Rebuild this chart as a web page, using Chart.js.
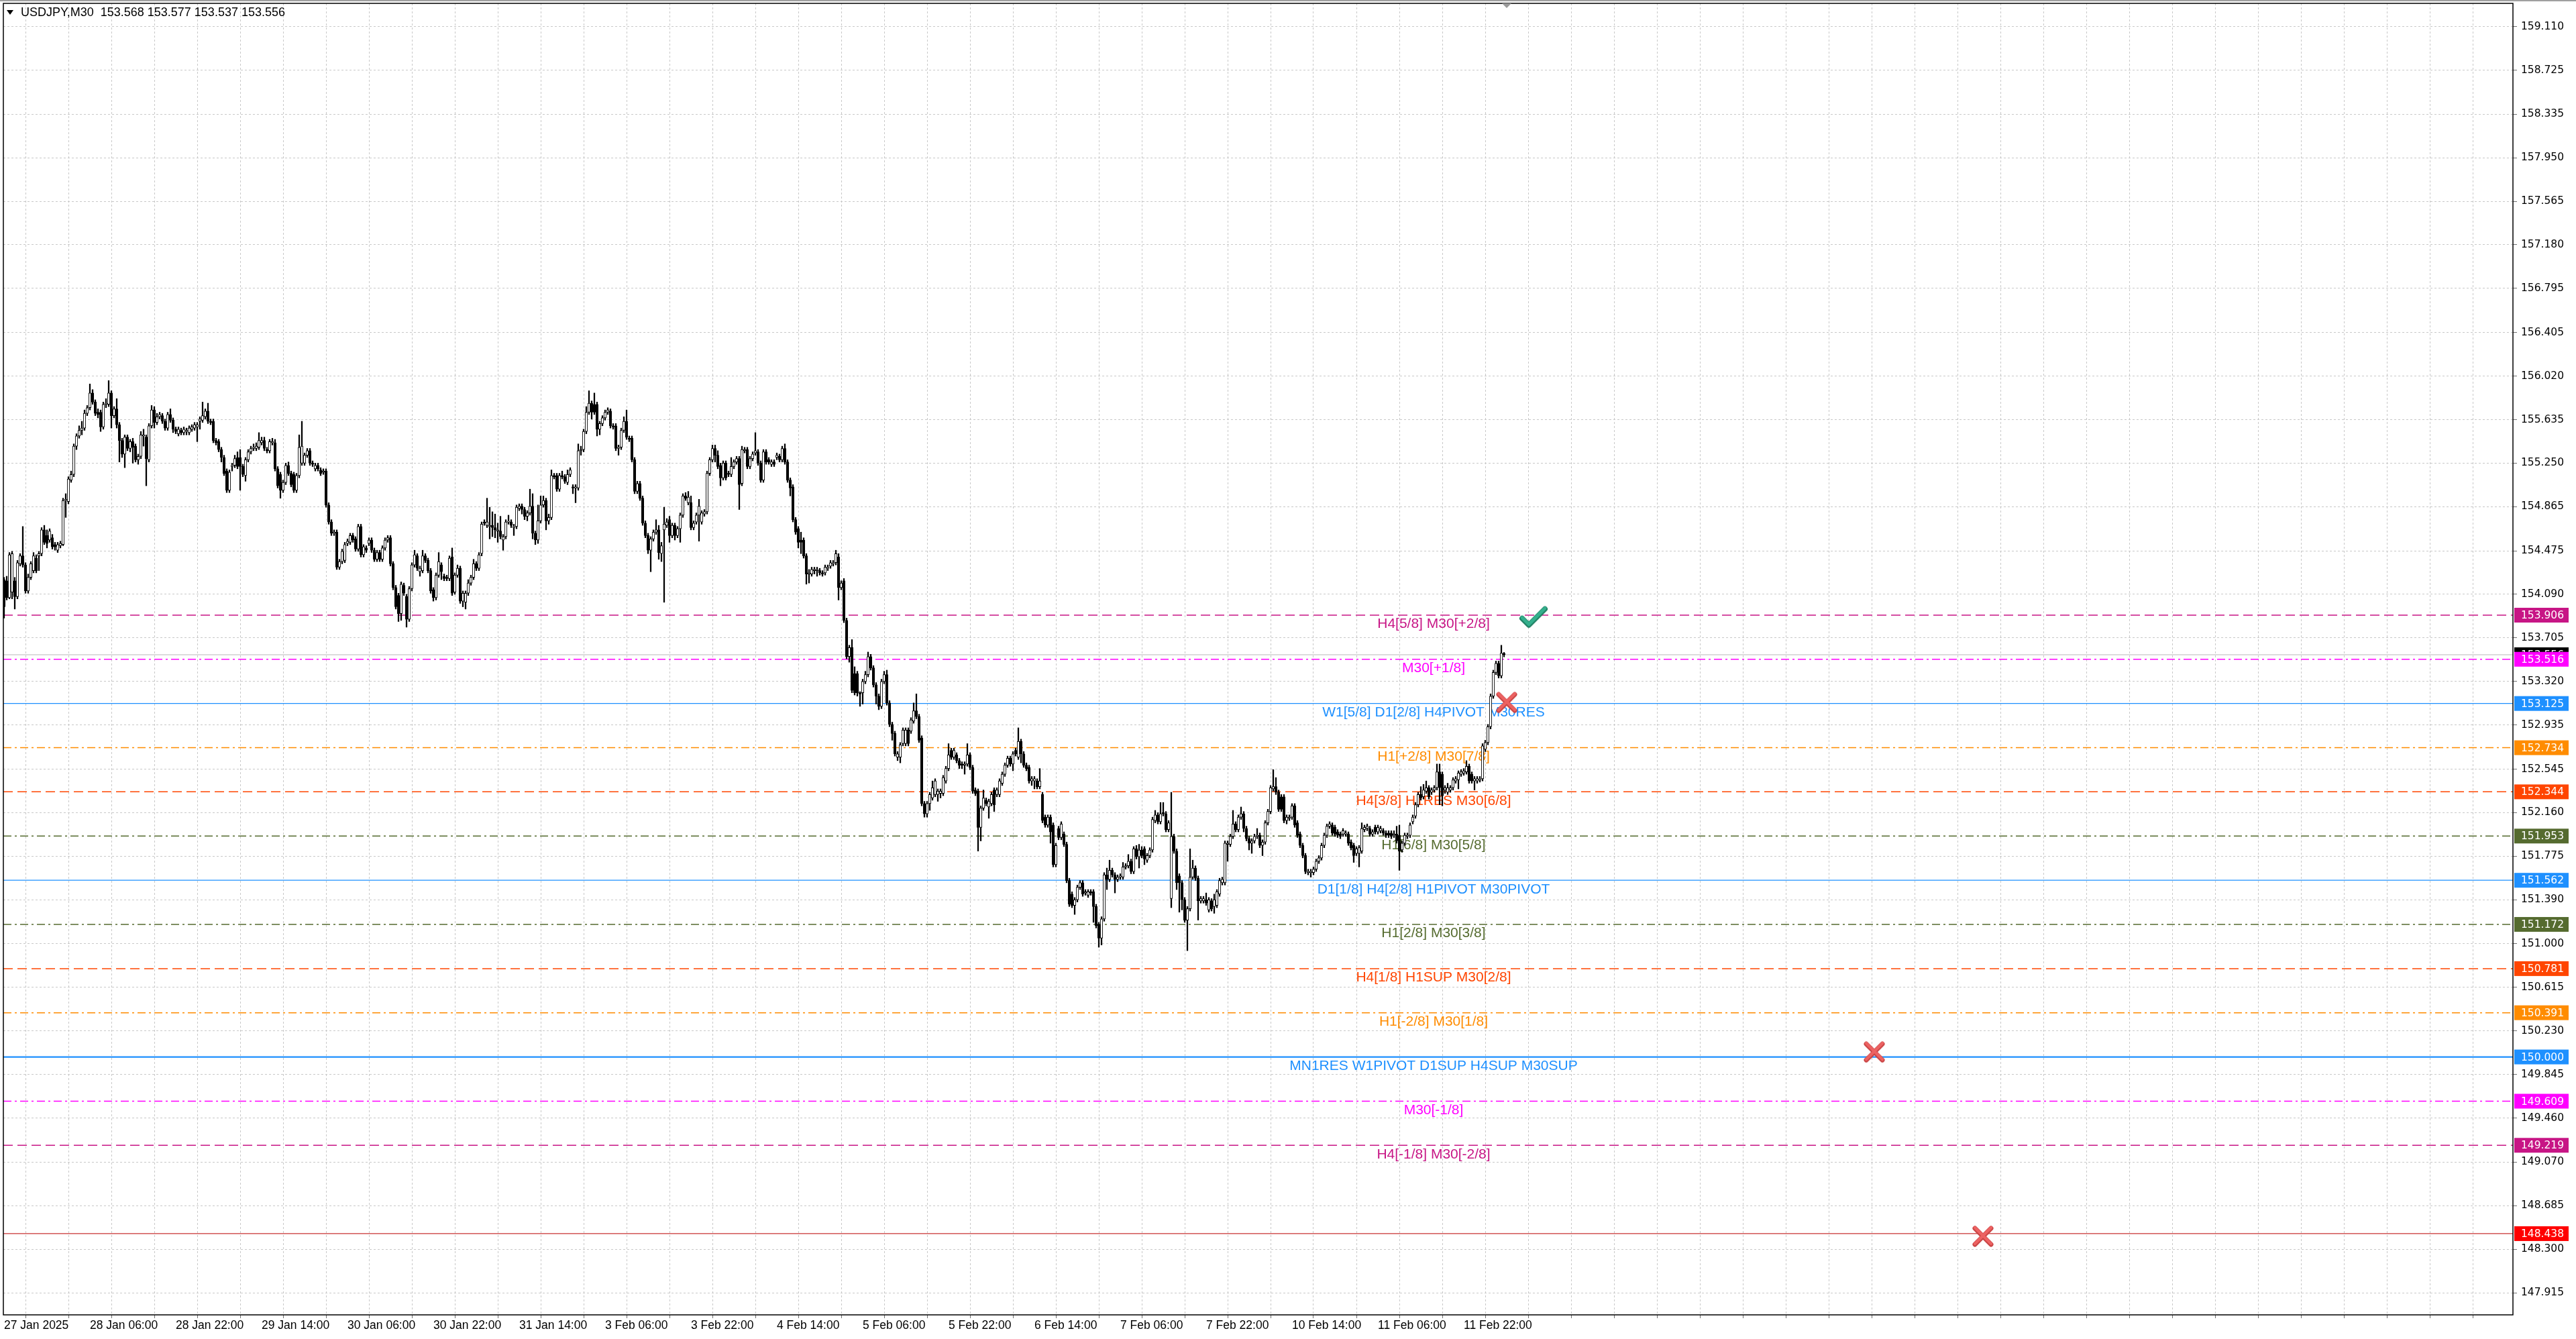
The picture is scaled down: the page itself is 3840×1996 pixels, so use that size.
<!DOCTYPE html>
<html><head><meta charset="utf-8">
<script src="https://cdn.jsdelivr.net/npm/chart.js@4.4.1/dist/chart.umd.min.js"></script>
<style>html,body{margin:0;padding:0;background:#fff;overflow:hidden}#wrap{position:relative;width:3840px;height:1996px}</style>
</head><body><div id="wrap"><canvas id="c"></canvas></div>
<script>
const chartTitle = 'USDJPY,M30  153.568 153.577 153.537 153.556';
const xTickLabels = ['27 Jan 2025','28 Jan 06:00','28 Jan 22:00','29 Jan 14:00','30 Jan 06:00','30 Jan 22:00','31 Jan 14:00','3 Feb 06:00','3 Feb 22:00','4 Feb 14:00','5 Feb 06:00','5 Feb 22:00','6 Feb 14:00','7 Feb 06:00','7 Feb 22:00','10 Feb 14:00','11 Feb 06:00','11 Feb 22:00'];
const yTickValues = [159.110,158.725,158.335,157.950,157.565,157.180,156.795,156.405,156.020,155.635,155.250,154.865,154.475,154.090,153.705,153.320,152.935,152.545,152.160,151.775,151.390,151.000,150.615,150.230,149.845,149.460,149.070,148.685,148.300,147.915];

const opens = [
154.22,154.21,154.06,154.11,154.21,154.07,154.36,154.43,154.35,154.12,
154.24,154.30,154.41,154.43,154.45,154.66,154.61,154.57,154.59,154.53,
154.48,154.52,154.53,154.92,154.91,155.10,155.15,155.40,155.49,155.54,
155.56,155.69,155.74,155.87,155.79,155.70,155.70,155.57,155.77,155.77,
155.87,155.67,155.73,155.59,155.45,155.33,155.48,155.38,155.44,155.40,
155.28,155.31,155.49,155.48,155.28,155.58,155.72,155.61,155.66,155.67,
155.62,155.56,155.68,155.63,155.55,155.51,155.54,155.52,155.53,155.52,
155.55,155.56,155.57,155.62,155.63,155.66,155.71,155.62,155.62,155.45,
155.44,155.37,155.30,155.18,155.01,155.22,155.23,155.30,155.30,155.22,
155.14,155.28,155.35,155.38,155.38,155.39,155.43,155.45,155.37,155.36,
155.43,155.43,155.20,155.15,155.01,155.08,155.23,155.16,155.15,155.01,
155.14,155.25,155.25,155.32,155.36,155.25,155.20,155.23,155.19,155.17,
155.18,154.88,154.73,154.63,154.64,154.33,154.38,154.39,154.54,154.55,
154.61,154.58,154.49,154.69,154.44,154.50,154.54,154.57,154.48,154.40,
154.46,154.40,154.50,154.57,154.59,154.36,154.15,154.08,153.92,154.17,
154.07,153.87,154.14,154.35,154.43,154.29,154.30,154.43,154.39,154.30,
154.13,154.06,154.26,154.35,154.25,154.24,154.23,154.42,154.11,154.26,
154.32,154.03,154.02,154.10,154.19,154.24,154.36,154.32,154.45,154.73,
154.70,154.69,154.70,154.68,154.65,154.65,154.57,154.60,154.73,154.73,
154.68,154.69,154.85,154.87,154.84,154.78,154.81,154.87,154.63,154.57,
154.74,154.88,154.92,154.74,154.77,155.14,155.14,155.02,155.14,155.13,
155.08,155.15,155.04,155.03,155.03,155.36,155.37,155.53,155.70,155.78,
155.77,155.77,155.55,155.60,155.65,155.70,155.71,155.58,155.58,155.38,
155.39,155.54,155.62,155.47,155.47,155.28,155.00,155.07,154.94,154.72,
154.61,154.48,154.58,154.64,154.66,154.45,154.66,154.70,154.75,154.61,
154.70,154.61,154.67,154.79,154.96,154.90,154.90,154.68,154.73,154.79,
154.73,154.80,154.82,155.16,155.28,155.38,155.32,155.23,155.12,155.25,
155.16,155.15,155.22,155.26,155.29,155.07,155.36,155.37,155.22,155.29,
155.34,155.35,155.25,155.10,155.35,155.28,155.24,155.26,155.30,155.31,
155.28,155.38,155.26,155.10,155.04,154.75,154.67,154.57,154.57,154.43,
154.27,154.27,154.30,154.30,154.30,154.28,154.28,154.32,154.34,154.36,
154.37,154.42,154.15,154.21,153.86,153.54,153.62,153.39,153.39,153.22,
153.22,153.32,153.38,153.54,153.44,153.29,153.19,153.10,153.32,153.38,
153.13,152.94,152.86,152.65,152.65,152.77,152.77,152.89,152.88,152.97,
153.06,153.01,152.82,152.24,152.15,152.24,152.29,152.32,152.32,152.33,
152.33,152.44,152.55,152.71,152.65,152.67,152.62,152.59,152.58,152.59,
152.67,152.56,152.36,152.35,152.03,152.20,152.27,152.21,152.24,152.36,
152.32,152.32,152.42,152.50,152.58,152.64,152.59,152.71,152.65,152.79,
152.68,152.58,152.56,152.44,152.44,152.44,152.39,152.32,152.12,152.05,
152.12,152.05,151.70,152.02,151.94,151.97,151.88,151.56,151.44,151.34,
151.39,151.50,151.54,151.45,151.43,151.46,151.46,151.33,151.17,151.05,
151.22,151.61,151.57,151.65,151.61,151.57,151.59,151.59,151.68,151.69,
151.73,151.64,151.84,151.77,151.83,151.84,151.74,151.78,151.83,152.09,
152.14,152.08,152.16,152.15,152.01,151.40,151.95,151.82,151.60,151.54,
151.39,151.21,151.31,151.59,151.67,151.58,151.38,151.38,151.39,151.30,
151.38,151.33,151.34,151.44,151.54,151.54,151.88,151.88,151.95,152.06,
152.01,152.12,152.15,152.02,151.93,151.89,151.91,151.95,151.96,151.87,
151.90,152.07,152.17,152.37,152.39,152.34,152.30,152.30,152.09,152.11,
152.12,152.22,152.07,151.97,151.87,151.78,151.63,151.63,151.63,151.66,
151.73,151.76,151.87,151.96,152.04,152.05,152.03,151.99,151.97,151.97,
151.97,151.97,151.90,151.87,151.80,151.80,151.82,152.01,152.02,152.02,
151.97,152.03,151.99,152.00,152.00,151.98,151.98,151.98,151.96,151.97,
151.96,151.83,151.89,151.95,151.96,152.08,152.13,152.23,152.32,152.30,
152.35,152.38,152.34,152.36,152.38,152.52,152.50,152.36,152.34,152.36,
152.38,152.44,152.45,152.50,152.51,152.52,152.57,152.50,152.44,152.44,
152.45,152.46,152.72,152.78,152.92,153.19,153.40,153.48,153.37,153.568];

const highs = [
154.24,154.25,154.46,154.47,154.24,154.39,154.45,154.69,154.37,154.27,
154.38,154.46,154.44,154.47,154.68,154.70,154.66,154.67,154.62,154.55,
154.55,154.56,154.94,154.98,155.13,155.18,155.42,155.51,155.58,155.62,
155.72,155.76,155.95,155.90,155.81,155.73,155.72,155.79,155.82,155.98,
155.89,155.75,155.82,155.61,155.47,155.50,155.50,155.46,155.47,155.42,
155.33,155.53,155.55,155.50,155.60,155.76,155.75,155.69,155.70,155.69,
155.64,155.70,155.73,155.65,155.57,155.57,155.56,155.57,155.56,155.58,
155.59,155.61,155.61,155.66,155.79,155.73,155.78,155.64,155.64,155.47,
155.46,155.39,155.32,155.20,155.19,155.25,155.32,155.35,155.37,155.24,
155.30,155.37,155.40,155.42,155.43,155.52,155.48,155.48,155.39,155.46,
155.47,155.46,155.22,155.17,155.10,155.25,155.26,155.18,155.17,155.16,
155.50,155.62,155.34,155.38,155.38,155.27,155.25,155.25,155.21,155.20,
155.20,154.90,154.75,154.66,154.66,154.40,154.49,154.55,154.58,154.63,
154.63,154.60,154.71,154.71,154.53,154.52,154.59,154.59,154.50,154.48,
154.48,154.52,154.59,154.61,154.61,154.38,154.17,154.10,154.20,154.19,
154.09,154.16,154.37,154.48,154.45,154.34,154.48,154.45,154.41,154.32,
154.15,154.28,154.46,154.37,154.27,154.26,154.43,154.50,154.28,154.35,
154.34,154.12,154.12,154.22,154.26,154.40,154.38,154.46,154.73,154.75,
154.94,154.86,154.82,154.80,154.72,154.78,154.62,154.75,154.79,154.75,
154.71,154.88,154.89,154.89,154.86,154.83,155.02,154.98,154.65,154.88,
154.96,154.96,154.94,154.80,155.19,155.16,155.16,155.16,155.18,155.15,
155.19,155.21,155.06,155.06,155.42,155.40,155.55,155.75,155.89,155.80,
155.87,155.79,155.62,155.67,155.72,155.74,155.73,155.60,155.60,155.41,
155.56,155.66,155.72,155.49,155.49,155.30,155.09,155.09,154.96,154.74,
154.63,154.60,154.66,154.75,154.70,154.55,154.86,154.76,154.78,154.72,
154.72,154.69,154.81,154.98,154.99,155.00,154.96,154.74,154.81,154.93,
154.83,154.84,155.18,155.30,155.41,155.41,155.36,155.25,155.27,155.27,
155.18,155.30,155.28,155.31,155.31,155.40,155.39,155.39,155.31,155.35,
155.52,155.37,155.27,155.37,155.37,155.30,155.28,155.28,155.34,155.33,
155.40,155.42,155.28,155.12,155.06,154.77,154.69,154.64,154.59,154.45,
154.31,154.33,154.33,154.33,154.32,154.30,154.35,154.35,154.39,154.39,
154.48,154.45,154.21,154.23,153.88,153.64,153.69,153.45,153.41,153.23,
153.34,153.41,153.58,153.56,153.46,153.31,153.21,153.34,153.41,153.42,
153.15,152.96,152.88,152.70,152.78,152.91,152.91,152.91,153.00,153.13,
153.21,153.03,152.84,152.26,152.26,152.34,152.44,152.46,152.37,152.37,
152.49,152.57,152.77,152.73,152.73,152.69,152.64,152.61,152.61,152.77,
152.69,152.58,152.38,152.37,152.22,152.36,152.29,152.28,152.34,152.38,
152.38,152.46,152.52,152.60,152.66,152.66,152.70,152.73,152.91,152.81,
152.70,152.60,152.58,152.48,152.48,152.46,152.55,152.34,152.14,152.14,
152.14,152.07,151.89,152.04,152.08,151.99,151.90,151.58,151.46,151.41,
151.52,151.56,151.56,151.48,151.48,151.48,151.48,151.35,151.19,151.24,
151.63,151.67,151.74,151.67,151.63,151.61,151.62,151.72,151.71,151.79,
151.75,151.86,151.87,151.88,151.86,151.86,151.80,151.85,152.12,152.18,
152.16,152.25,152.25,152.17,152.09,152.34,151.97,151.84,151.62,151.56,
151.41,151.33,151.84,151.74,151.69,151.60,151.42,151.42,151.45,151.41,
151.40,151.44,151.48,151.58,151.59,151.91,151.91,151.97,152.18,152.08,
152.14,152.21,152.17,152.04,151.95,151.93,151.97,152.02,151.98,151.92,
152.09,152.19,152.40,152.54,152.47,152.36,152.32,152.32,152.14,152.14,
152.24,152.24,152.09,151.99,151.89,151.80,151.66,151.66,151.68,151.75,
151.78,151.89,151.98,152.06,152.08,152.07,152.05,152.01,151.99,152.02,
152.00,151.99,151.92,151.89,151.86,151.87,152.07,152.05,152.06,152.04,
152.01,152.05,152.05,152.04,152.02,152.00,152.00,152.00,152.00,152.04,
152.05,151.91,151.98,151.98,152.07,152.14,152.25,152.34,152.39,152.41,
152.44,152.40,152.38,152.40,152.59,152.59,152.52,152.40,152.42,152.40,
152.47,152.48,152.53,152.54,152.55,152.62,152.59,152.52,152.48,152.48,
152.48,152.77,152.80,152.94,153.21,153.42,153.50,153.50,153.64,153.577];

const lows = [
153.88,154.04,154.05,154.05,153.96,154.05,154.34,154.33,154.10,154.10,
154.22,154.28,154.28,154.30,154.43,154.53,154.50,154.55,154.49,154.48,
154.46,154.50,154.52,154.77,154.89,155.08,155.13,155.37,155.47,155.50,
155.54,155.67,155.72,155.77,155.67,155.65,155.53,155.55,155.74,155.75,
155.56,155.65,155.56,155.26,155.30,155.21,155.36,155.35,155.25,155.26,
155.24,155.29,155.40,155.05,155.26,155.56,155.56,155.59,155.64,155.60,
155.54,155.54,155.61,155.52,155.51,155.49,155.50,155.50,155.50,155.50,
155.53,155.54,155.44,155.55,155.61,155.64,155.60,155.59,155.43,155.41,
155.35,155.26,155.14,154.99,154.99,155.18,155.21,155.20,155.01,155.13,
155.09,155.26,155.33,155.36,155.36,155.37,155.41,155.36,155.34,155.34,
155.41,155.18,155.03,154.94,154.99,155.06,155.14,155.04,154.99,154.99,
155.12,155.23,155.23,155.30,155.23,155.22,155.18,155.18,155.14,155.15,
154.86,154.71,154.61,154.61,154.31,154.31,154.36,154.37,154.52,154.53,
154.55,154.47,154.47,154.42,154.42,154.46,154.52,154.46,154.38,154.38,
154.38,154.38,154.48,154.55,154.34,154.13,153.96,153.85,153.86,154.08,
153.80,153.85,154.12,154.33,154.30,154.25,154.28,154.37,154.28,154.10,
154.03,154.04,154.24,154.22,154.21,154.21,154.21,154.08,154.09,154.24,
154.01,153.98,153.96,154.08,154.17,154.22,154.30,154.30,154.43,154.70,
154.68,154.58,154.60,154.59,154.55,154.58,154.48,154.58,154.71,154.68,
154.61,154.67,154.83,154.80,154.75,154.74,154.79,154.58,154.53,154.54,
154.72,154.86,154.66,154.71,154.75,155.11,155.00,155.00,155.11,155.07,
155.06,155.13,154.98,154.90,155.01,155.32,155.35,155.51,155.68,155.64,
155.68,155.49,155.50,155.58,155.63,155.68,155.56,155.55,155.36,155.32,
155.37,155.52,155.46,155.44,155.26,154.98,154.98,154.92,154.70,154.59,
154.45,154.29,154.56,154.62,154.40,154.38,154.02,154.68,154.55,154.59,
154.57,154.59,154.55,154.77,154.92,154.88,154.66,154.66,154.71,154.56,
154.71,154.78,154.80,155.14,155.26,155.26,155.20,155.05,155.10,155.10,
155.13,155.13,155.20,155.24,154.84,155.05,155.34,155.20,155.20,155.27,
155.32,155.23,155.08,155.08,155.24,155.24,155.22,155.22,155.28,155.26,
155.26,155.24,155.08,154.96,154.73,154.62,154.50,154.45,154.41,154.18,
154.19,154.25,154.27,154.25,154.26,154.25,154.26,154.30,154.32,154.34,
154.35,154.04,154.13,153.84,153.52,153.49,153.22,153.20,153.19,153.10,
153.12,153.30,153.36,153.42,153.27,153.12,153.07,153.08,153.30,153.11,
152.92,152.80,152.66,152.62,152.60,152.75,152.75,152.75,152.86,152.95,
152.99,152.78,152.22,152.12,152.12,152.18,152.27,152.30,152.26,152.29,
152.31,152.42,152.53,152.63,152.63,152.60,152.55,152.55,152.50,152.57,
152.54,152.33,152.31,151.82,151.91,152.18,152.22,152.11,152.22,152.17,
152.30,152.30,152.40,152.48,152.56,152.57,152.53,152.66,152.63,152.60,
152.56,152.53,152.42,152.40,152.37,152.37,152.37,152.07,152.03,152.03,
151.89,151.68,151.68,151.92,151.92,151.86,151.54,151.33,151.32,151.26,
151.37,151.48,151.42,151.43,151.41,151.43,151.19,151.14,150.97,150.99,
151.20,151.48,151.55,151.59,151.45,151.55,151.57,151.57,151.66,151.67,
151.62,151.62,151.75,151.67,151.76,151.70,151.72,151.76,151.81,152.07,
152.06,152.06,152.13,151.99,151.99,151.32,151.80,151.48,151.28,151.30,
151.19,150.94,151.29,151.57,151.56,151.21,151.36,151.36,151.34,151.28,
151.29,151.27,151.32,151.42,151.52,151.52,151.73,151.86,151.93,151.99,
151.99,152.10,151.99,151.91,151.83,151.80,151.89,151.93,151.85,151.78,
151.88,152.05,152.15,152.35,152.32,152.17,152.17,152.07,152.06,152.09,
152.10,152.03,151.94,151.85,151.76,151.62,151.61,151.59,151.61,151.64,
151.71,151.74,151.85,151.94,152.02,151.96,151.95,151.94,151.93,151.95,
151.95,151.87,151.83,151.72,151.78,151.68,151.80,151.99,152.00,151.95,
151.95,151.97,151.97,151.98,151.96,151.94,151.94,151.93,151.94,151.89,
151.65,151.81,151.87,151.93,151.94,152.06,152.11,152.21,152.27,152.28,
152.33,152.28,152.32,152.34,152.36,152.23,152.22,152.33,152.32,152.34,
152.36,152.42,152.37,152.48,152.49,152.50,152.42,152.42,152.36,152.42,
152.43,152.44,152.70,152.76,152.90,153.17,153.38,153.35,153.35,153.537];

const closes = [
153.98,154.06,154.44,154.45,154.07,154.37,154.43,154.35,154.12,154.24,
154.36,154.43,154.30,154.45,154.66,154.55,154.54,154.65,154.51,154.51,
154.53,154.54,154.92,154.93,155.11,155.15,155.40,155.49,155.54,155.56,
155.69,155.74,155.87,155.79,155.69,155.68,155.57,155.77,155.78,155.87,
155.67,155.73,155.59,155.45,155.33,155.48,155.38,155.44,155.39,155.28,
155.31,155.50,155.50,155.29,155.58,155.72,155.61,155.66,155.68,155.62,
155.56,155.68,155.63,155.55,155.53,155.55,155.52,155.55,155.54,155.56,
155.57,155.59,155.59,155.64,155.67,155.71,155.62,155.61,155.45,155.43,
155.37,155.30,155.16,155.01,155.17,155.23,155.29,155.22,155.22,155.15,
155.28,155.35,155.38,155.39,155.40,155.45,155.45,155.38,155.36,155.44,
155.44,155.20,155.05,155.01,155.08,155.23,155.16,155.06,155.01,155.14,
155.39,155.40,155.32,155.36,155.25,155.24,155.23,155.20,155.16,155.18,
154.88,154.73,154.63,154.64,154.33,154.38,154.47,154.53,154.56,154.61,
154.57,154.49,154.69,154.44,154.51,154.48,154.57,154.48,154.40,154.46,
154.40,154.50,154.57,154.59,154.36,154.15,153.98,153.92,154.18,154.10,
153.87,154.14,154.35,154.44,154.32,154.32,154.43,154.39,154.30,154.12,
154.06,154.26,154.38,154.29,154.23,154.23,154.41,154.10,154.26,154.32,
154.03,154.10,154.10,154.19,154.24,154.36,154.32,154.44,154.71,154.72,
154.73,154.70,154.68,154.66,154.66,154.60,154.60,154.73,154.73,154.70,
154.69,154.86,154.87,154.84,154.78,154.81,154.87,154.63,154.57,154.74,
154.88,154.92,154.74,154.77,155.14,155.13,155.02,155.14,155.13,155.09,
155.15,155.19,155.03,155.04,155.36,155.37,155.53,155.70,155.78,155.70,
155.70,155.55,155.60,155.65,155.70,155.72,155.58,155.57,155.38,155.39,
155.54,155.62,155.48,155.46,155.28,155.00,155.07,154.94,154.72,154.61,
154.48,154.58,154.64,154.66,154.46,154.52,154.71,154.73,154.61,154.70,
154.61,154.67,154.79,154.96,154.94,154.95,154.68,154.72,154.79,154.87,
154.81,154.82,155.16,155.28,155.38,155.32,155.22,155.12,155.25,155.12,
155.15,155.22,155.26,155.29,155.06,155.37,155.37,155.22,155.29,155.33,
155.36,155.25,155.10,155.35,155.26,155.26,155.26,155.24,155.32,155.28,
155.38,155.26,155.10,155.03,154.75,154.64,154.55,154.55,154.43,154.27,
154.28,154.31,154.31,154.31,154.28,154.27,154.33,154.33,154.37,154.37,
154.45,154.15,154.19,153.86,153.54,153.62,153.24,153.22,153.22,153.21,
153.32,153.38,153.54,153.44,153.29,153.19,153.10,153.32,153.38,153.13,
152.94,152.86,152.68,152.68,152.76,152.89,152.89,152.77,152.98,153.06,
153.01,152.80,152.24,152.15,152.24,152.32,152.38,152.44,152.35,152.35,
152.47,152.55,152.67,152.65,152.71,152.62,152.58,152.58,152.59,152.67,
152.56,152.35,152.33,152.03,152.20,152.29,152.24,152.26,152.32,152.23,
152.36,152.44,152.50,152.58,152.64,152.59,152.68,152.68,152.79,152.68,
152.58,152.55,152.44,152.46,152.46,152.39,152.44,152.09,152.05,152.12,
151.99,151.70,151.87,151.94,152.06,151.88,151.56,151.35,151.34,151.39,
151.50,151.54,151.44,151.46,151.46,151.45,151.33,151.16,151.05,151.22,
151.61,151.57,151.65,151.61,151.57,151.59,151.60,151.68,151.69,151.73,
151.64,151.84,151.77,151.83,151.78,151.75,151.78,151.83,152.10,152.14,
152.08,152.15,152.15,152.01,152.07,151.95,151.82,151.54,151.54,151.39,
151.21,151.31,151.59,151.67,151.58,151.38,151.40,151.40,151.36,151.39,
151.31,151.39,151.46,151.56,151.57,151.89,151.89,151.95,152.06,152.01,
152.12,152.15,152.02,151.93,151.89,151.91,151.95,151.96,151.87,151.90,
152.07,152.17,152.38,152.39,152.34,152.19,152.19,152.09,152.12,152.12,
152.22,152.05,151.96,151.87,151.78,151.64,151.64,151.64,151.66,151.73,
151.76,151.87,151.96,152.04,152.06,151.98,151.97,151.96,151.95,152.00,
151.98,151.89,151.85,151.78,151.84,151.85,152.02,152.03,152.04,151.97,
151.99,151.99,152.03,152.02,151.98,151.96,151.96,151.95,151.97,151.91,
151.82,151.89,151.96,151.96,152.05,152.12,152.23,152.32,152.29,152.36,
152.38,152.30,152.36,152.38,152.52,152.38,152.31,152.38,152.38,152.38,
152.45,152.46,152.51,152.52,152.53,152.57,152.44,152.44,152.46,152.46,
152.46,152.75,152.78,152.92,153.19,153.40,153.48,153.37,153.57,153.556];

const levelPrices = [153.906,153.516,153.125,152.734,152.344,151.953,151.562,151.172,150.781,150.391,150.000,149.609,149.219,148.438];
const levelNames = ['H4[5/8] M30[+2/8]','M30[+1/8]','W1[5/8] D1[2/8] H4PIVOT M30RES','H1[+2/8] M30[7/8]','H4[3/8] H1RES M30[6/8]','H1[6/8] M30[5/8]','D1[1/8] H4[2/8] H1PIVOT M30PIVOT','H1[2/8] M30[3/8]','H4[1/8] H1SUP M30[2/8]','H1[-2/8] M30[1/8]','MN1RES W1PIVOT D1SUP H4SUP M30SUP','M30[-1/8]','H4[-1/8] M30[-2/8]',''];
const currentPrice = 153.556;
const checkX = [570], checkY = [153.89];
const crossX = [560, 697, 737.5], crossY = [153.14, 150.05, 148.42];

// ---- styles ----
const C_MVR = '#c71585', C_MAG = '#ff00ff', C_BLUE = '#1e90ff', C_ORG = '#ff8c00', C_ORR = '#ff4500', C_OLV = '#556b2f';
const DASH = [14,7], DASHDOT = [12,5,3,5];
const levelColors = [C_MVR,C_MAG,C_BLUE,C_ORG,C_ORR,C_OLV,C_BLUE,C_OLV,C_ORR,C_ORG,C_BLUE,C_MAG,C_MVR,'#c83232'];
const tagColors   = [C_MVR,C_MAG,C_BLUE,C_ORG,C_ORR,C_OLV,C_BLUE,C_OLV,C_ORR,C_ORG,C_BLUE,C_MAG,C_MVR,'#ff0000'];
const levelDash = [DASH,DASHDOT,[],DASHDOT,DASH,DASHDOT,[],DASHDOT,DASH,DASHDOT,[],DASHDOT,DASH,[]];
const levelWidth = [1.5,1.5,1.2,1.5,1.5,1.5,1.2,1.5,1.5,1.5,2.2,1.5,1.5,1.2];
const X_MIN = -0.25, X_MAX = 935, Y_MIN = 147.72, Y_MAX = 159.315;
const LABEL_IDX = 532.75, SHIFT_IDX = 560;

function makeCheck(){const c=document.createElement('canvas');c.width=44;c.height=36;const g=c.getContext('2d');
  g.strokeStyle='#1f7f63';g.lineWidth=8;g.lineCap='round';g.lineJoin='round';g.beginPath();g.moveTo(5,20);g.lineTo(15,30);g.lineTo(39,6);g.stroke();
  g.strokeStyle='#35b08d';g.lineWidth=5;g.beginPath();g.moveTo(5,19);g.lineTo(15,29);g.lineTo(39,5);g.stroke();return c;}
function makeCross(){const c=document.createElement('canvas');c.width=36;c.height=36;const g=c.getContext('2d');
  g.strokeStyle='#c94444';g.lineWidth=7;g.lineCap='round';g.beginPath();g.moveTo(6,7);g.lineTo(30,31);g.moveTo(30,7);g.lineTo(6,31);g.stroke();
  g.strokeStyle='#ec6262';g.lineWidth=4.5;g.beginPath();g.moveTo(6,6);g.lineTo(30,30);g.moveTo(30,6);g.lineTo(6,30);g.stroke();return c;}

const wickData = closes.map((c,i)=>({x:i, y:[lows[i], highs[i]]}));
const bodyData = closes.map((c,i)=>({x:i, y:[opens[i], c]}));
const bodyFill = closes.map((c,i)=> c >= opens[i] ? '#ffffff' : '#000000');

const datasets = [];
levelPrices.forEach((p,k)=>{
  datasets.push({type:'line', data:[{x:X_MIN,y:p},{x:X_MAX,y:p}], borderColor:levelColors[k], borderWidth:levelWidth[k], borderDash:levelDash[k], pointRadius:0, order:10});
});
datasets.push({type:'line', data:[{x:X_MIN,y:currentPrice},{x:X_MAX,y:currentPrice}], borderColor:'#b8b8b8', borderWidth:1.2, pointRadius:0, order:11});
datasets.push({type:'bar', data:wickData, backgroundColor:'#000', borderWidth:0, barThickness:1.6, grouped:false, order:3});
datasets.push({type:'bar', data:bodyData, backgroundColor:bodyFill, borderColor:'#000', borderWidth:1, borderSkipped:false, barThickness:3.6, minBarLength:1, grouped:false, order:2});
datasets.push({type:'line', data:checkX.map((x,i)=>({x, y:checkY[i]})), showLine:false, pointStyle:makeCheck(), pointRadius:20, order:1});
datasets.push({type:'line', data:crossX.map((x,i)=>({x, y:crossY[i]})), showLine:false, pointStyle:makeCross(), pointRadius:18, order:1});

const gridIdx = []; for (let v = 0; v <= 928; v += 16) gridIdx.push(v);

const overlay = {
  id:'overlay',
  beforeDatasetsDraw(chart){
    const {ctx, scales:{x, y}} = chart;
    ctx.save();
    ctx.font = '21px "Liberation Sans", Arial, sans-serif';
    ctx.textAlign = 'center'; ctx.textBaseline = 'top';
    const cx = x.getPixelForValue(LABEL_IDX);
    levelPrices.forEach((p,k)=>{ if(!levelNames[k]) return; ctx.fillStyle = levelColors[k]; ctx.fillText(levelNames[k], cx, y.getPixelForValue(p) + 3); });
    ctx.restore();
  },
  afterDraw(chart){
    const {ctx, chartArea:a, scales:{x, y}} = chart;
    ctx.save();
    ctx.strokeStyle = '#000'; ctx.lineWidth = 1.5;
    ctx.strokeRect(a.left, a.top, a.right - a.left, a.bottom - a.top);
    ctx.strokeStyle = '#a0a0a0'; ctx.lineWidth = 2;
    ctx.beginPath(); ctx.moveTo(0,1); ctx.lineTo(chart.width,1); ctx.stroke();
    ctx.font = '15.5px "DejaVu Sans", Verdana, sans-serif';
    ctx.textAlign = 'left'; ctx.textBaseline = 'middle';
    const tag = (p, bg) => { const py = y.getPixelForValue(p); ctx.fillStyle = bg; ctx.fillRect(a.right + 2, py - 11, 81, 22); ctx.fillStyle = '#fff'; ctx.fillText(p.toFixed(3), a.right + 12, py + 1); };
    tag(currentPrice, '#000000');
    levelPrices.forEach((p,k)=> tag(p, tagColors[k]));
    const sx = x.getPixelForValue(SHIFT_IDX);
    ctx.fillStyle = '#9a9a9a';
    ctx.beginPath(); ctx.moveTo(sx - 7, a.top); ctx.lineTo(sx + 7, a.top); ctx.lineTo(sx, a.top + 7); ctx.closePath(); ctx.fill();
    ctx.fillStyle = '#000';
    ctx.beginPath(); ctx.moveTo(10, 15); ctx.lineTo(20, 15); ctx.lineTo(15, 22); ctx.closePath(); ctx.fill();
    ctx.font = '18px "Liberation Sans", Arial, sans-serif';
    ctx.textBaseline = 'middle'; ctx.textAlign = 'left';
    ctx.fillText(chartTitle, 31, 19);
    ctx.restore();
  }
};

new Chart(document.getElementById('c'), {
  type:'bar',
  data:{datasets},
  options:{
    responsive:true, maintainAspectRatio:false, animation:false, devicePixelRatio:1,
    layout:{autoPadding:false, padding:{left:5, top:5, right:0, bottom:0}},
    plugins:{legend:{display:false}, tooltip:{enabled:false}},
    scales:{
      x:{type:'linear', min:X_MIN, max:X_MAX, offset:false,
        afterBuildTicks:s=>{ s.ticks = gridIdx.map(v=>({value:v})); },
        afterFit:s=>{ s.height = 36; s.paddingLeft = 0; s.paddingRight = 0; },
        grid:{color:'#c8c8c8', lineWidth:1, drawTicks:true, tickLength:5, tickColor:'#707070', tickBorderDash:[], tickWidth:1},
        border:{display:false, dash:[3,3]},
        ticks:{autoSkip:false, maxRotation:0, minRotation:0, align:'start', padding:1, color:'#000',
          font:{family:'"Liberation Sans", Arial, sans-serif', size:17.5},
          callback:v=> (v % 32 === 0 && v/32 < xTickLabels.length) ? xTickLabels[v/32] : ''}
      },
      y:{type:'linear', position:'right', min:Y_MIN, max:Y_MAX,
        afterBuildTicks:s=>{ s.ticks = yTickValues.map(v=>({value:v})); },
        afterFit:s=>{ s.width = 94; s.paddingTop = 0; s.paddingBottom = 0; },
        grid:{color:'#c8c8c8', lineWidth:1, drawTicks:true, tickLength:6, tickColor:'#707070', tickBorderDash:[], tickWidth:1},
        border:{display:false, dash:[3,3]},
        ticks:{padding:6, color:'#000', font:{family:'"DejaVu Sans", Verdana, sans-serif', size:15.5}, callback:v=>Number(v).toFixed(3)}
      }
    }
  },
  plugins:[overlay]
});
</script>
</body></html>
